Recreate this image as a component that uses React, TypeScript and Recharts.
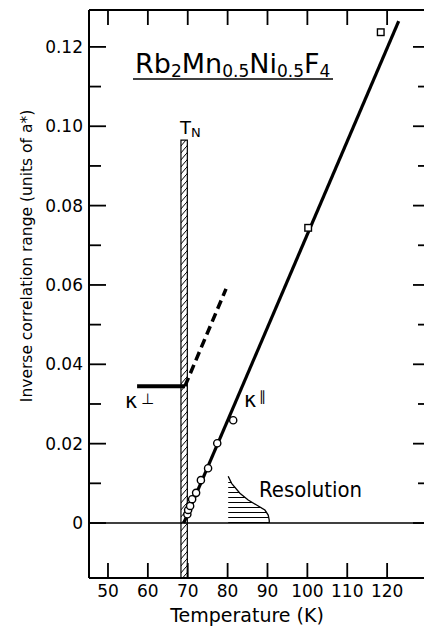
import React from 'react';
import {
  ComposedChart,
  XAxis,
  YAxis,
  Line,
  Scatter,
  Area,
  ReferenceArea,
  ReferenceLine,
  Customized,
} from 'recharts';

const FONT = '"DejaVu Sans", sans-serif';

// Axis ranges and ticks
const xDomain = [45.24, 130];
const yDomain = [-0.01386, 0.1293];
const xTicks = [50, 60, 70, 80, 90, 100, 110, 120];
const yTicks = [0, 0.01, 0.02, 0.03, 0.04, 0.05, 0.06, 0.07, 0.08, 0.09, 0.1, 0.11, 0.12];

// kappa-parallel measurements (open circles)
const circleTemps = [69.9, 70.1, 70.6, 71.1, 72.1, 73.3, 75.1, 77.4, 81.4];
const circleValues = [0.0022, 0.0033, 0.0043, 0.006, 0.0076, 0.0108, 0.0138, 0.0201, 0.0259];

// kappa-parallel measurements (open squares)
const squareTemps = [100.2, 118.4];
const squareValues = [0.0744, 0.1237];

// straight-line fit through kappa-parallel
const fitTemps = [69.0, 122.9];
const fitValues = [0, 0.1265];

// kappa-perp, constant below T_N
const perpTemps = [57.3, 69.3];
const perpValues = [0.0345, 0.0345];

// kappa-perp continued above T_N (dashed)
const extrapTemps = [69.3, 79.6];
const extrapValues = [0.0345, 0.059];

// instrumental resolution profile
const resTemps = [80.15, 81.0, 83.08, 85.16, 87.27, 89.35, 90.18, 90.43, 90.45];
const resValues = [0.0118, 0.01, 0.0075, 0.0058, 0.00453, 0.00327, 0.002, 0.00076, 0];

// Neel temperature band
const tnLow = 68.3;
const tnHigh = 69.9;
const tnTop = 0.0965;

const zip = (ts: number[], vs: number[]) => ts.map((t, i) => ({ t, v: vs[i] }));

const circleData = zip(circleTemps, circleValues);
const squareData = zip(squareTemps, squareValues);
const fitData = zip(fitTemps, fitValues);
const perpData = zip(perpTemps, perpValues);
const extrapData = zip(extrapTemps, extrapValues);
const resData = zip(resTemps, resValues);

const isMajor = (v: number) => Math.round(v * 100) % 2 === 0;
const fmtY = (v: number) => (v === 0 ? '0' : v.toFixed(2));

// frame tick positions, placed on the frame edges through the chart scales
const leftTickData = yTicks.map((v) => ({ t: xDomain[0], v }));
const rightTickData = yTicks.map((v) => ({ t: xDomain[1], v }));
const bottomTickData = xTicks.map((t) => ({ t, v: yDomain[0] }));
const topTickData = xTicks.map((t) => ({ t, v: yDomain[1] }));

const LeftTickMark = (props: any) => {
  const len = isMajor(props.payload.v) ? 17 : 12;
  return <rect x={props.cx} y={props.cy - 0.9} width={len} height={1.8} fill="#000" />;
};

const RightTickMark = (props: any) => {
  const len = isMajor(props.payload.v) ? 14 : 9;
  return <rect x={props.cx - len} y={props.cy - 0.9} width={len} height={1.8} fill="#000" />;
};

const BottomTickMark = (props: any) => (
  <rect x={props.cx - 0.9} y={props.cy - 15} width={1.8} height={15} fill="#000" />
);

const TopTickMark = (props: any) => (
  <rect x={props.cx - 0.9} y={props.cy} width={1.8} height={15} fill="#000" />
);

const renderLeftLabel = (props: any) => {
  const v = props.payload.value;
  if (!isMajor(v)) return <g key={`l-${v}`} />;
  return (
    <text key={`l-${v}`} x={Number(props.x) - 6} y={Number(props.y)} dy={6} textAnchor="end" fontSize={17} fontFamily={FONT} fill="#000">
      {fmtY(v)}
    </text>
  );
};

const renderBottomLabel = (props: any) => (
  <text key={`b-${props.payload.value}`} x={Number(props.x)} y={Number(props.y) + 19} textAnchor="middle" fontSize={17} fontFamily={FONT} fill="#000">
    {props.payload.value}
  </text>
);

const CircleMark = (props: any) => (
  <circle cx={props.cx} cy={props.cy} r={3.6} fill="#fff" stroke="#000" strokeWidth={1.4} />
);

const SquareMark = (props: any) => (
  <rect x={props.cx - 3.3} y={props.cy - 3.3} width={6.6} height={6.6} fill="#fff" stroke="#000" strokeWidth={1.4} />
);

const Annotations = () => (
  <g fontFamily={FONT} fill="#000">
    <text x={135} y={73} fontSize={27}>
      <tspan>Rb</tspan>
      <tspan fontSize={17} dy={4}>2</tspan>
      <tspan dy={-4}>Mn</tspan>
      <tspan fontSize={17} dy={4}>0.5</tspan>
      <tspan dy={-4}>Ni</tspan>
      <tspan fontSize={17} dy={4}>0.5</tspan>
      <tspan dy={-4}>F</tspan>
      <tspan fontSize={17} dy={4}>4</tspan>
    </text>
    <line x1={133} x2={333} y1={79} y2={79} stroke="#000" strokeWidth={1.5} />
    <text x={180} y={134} fontSize={18}>
      T<tspan fontSize={13} dy={3}>N</tspan>
    </text>
    <text x={125} y={408} fontSize={21}>κ</text>
    <text x={141} y={404} fontSize={15}>⊥</text>
    <text x={244} y={407} fontSize={21}>κ</text>
    <text x={259} y={401} fontSize={14}>∥</text>
    <text x={259} y={497} fontSize={21} textLength={103} lengthAdjust="spacingAndGlyphs">Resolution</text>
    <text x={247} y={622} fontSize={19} textAnchor="middle">Temperature (K)</text>
    <text
      x={27}
      y={256}
      fontSize={15.5}
      textAnchor="middle"
      dominantBaseline="central"
      transform="rotate(-90 27 256)"
    >
      Inverse correlation range (units of a*)
    </text>
  </g>
);

export default function App() {
  return (
    <div style={{ position: 'absolute', left: 0, top: 0, width: 424, height: 633, overflow: 'hidden', background: '#fff' }}>
      <ComposedChart width={430} height={633} margin={{ top: 0, right: 0, bottom: 0, left: 0 }}>
        <defs>
          <pattern id="tnHatch" patternUnits="userSpaceOnUse" width={6} height={7}>
            <path d="M0,7 L6,0" stroke="#000" strokeWidth={1} />
          </pattern>
          <pattern id="resHatch" patternUnits="userSpaceOnUse" width={10} height={5}>
            <line x1={0} x2={10} y1={2.5} y2={2.5} stroke="#000" strokeWidth={1} />
          </pattern>
        </defs>
        <XAxis
          dataKey="t"
          type="number"
          domain={xDomain}
          allowDataOverflow
          ticks={xTicks}
          interval={0}
          height={55}
          tickSize={0}
          tickMargin={0}
          tickLine={false}
          tick={renderBottomLabel}
          axisLine={{ stroke: '#000', strokeWidth: 2 }}
        />
        <XAxis
          xAxisId="top"
          orientation="top"
          type="number"
          domain={xDomain}
          allowDataOverflow
          ticks={xTicks}
          height={10}
          tickLine={false}
          tick={false}
          axisLine={{ stroke: '#000', strokeWidth: 2 }}
        />
        <YAxis
          type="number"
          domain={yDomain}
          allowDataOverflow
          ticks={yTicks}
          interval={0}
          width={89}
          tickSize={0}
          tickMargin={0}
          tickLine={false}
          tick={renderLeftLabel}
          axisLine={{ stroke: '#000', strokeWidth: 2 }}
        />
        <YAxis
          yAxisId="r"
          orientation="right"
          type="number"
          domain={yDomain}
          allowDataOverflow
          width={3}
          tickLine={false}
          tick={false}
          axisLine={{ stroke: '#000', strokeWidth: 2 }}
        />
        <Area
          data={resData}
          dataKey="v"
          type="linear"
          baseValue={0}
          fill="url(#resHatch)"
          fillOpacity={1}
          stroke="#000"
          strokeWidth={1.3}
          dot={false}
          activeDot={false}
          isAnimationActive={false}
        />
        <ReferenceArea
          x1={tnLow}
          x2={tnHigh}
          y1={yDomain[0]}
          y2={tnTop}
          fill="url(#tnHatch)"
          fillOpacity={1}
          stroke="#000"
          strokeWidth={1.2}
          ifOverflow="hidden"
        />
        <ReferenceLine y={0} stroke="#000" strokeWidth={1.3} />
        <Line data={perpData} dataKey="v" type="linear" stroke="#000" strokeWidth={4} dot={false} activeDot={false} isAnimationActive={false} />
        <Line
          data={extrapData}
          dataKey="v"
          type="linear"
          stroke="#000"
          strokeWidth={3.5}
          strokeDasharray="9 5"
          dot={false}
          activeDot={false}
          isAnimationActive={false}
        />
        <Line data={fitData} dataKey="v" type="linear" stroke="#000" strokeWidth={3.2} dot={false} activeDot={false} isAnimationActive={false} />
        <Scatter data={circleData} dataKey="v" shape={<CircleMark />} isAnimationActive={false} />
        <Scatter data={squareData} dataKey="v" shape={<SquareMark />} isAnimationActive={false} />

        {/* inward tick marks along the four frame edges */}
        <Scatter data={leftTickData} dataKey="v" shape={<LeftTickMark />} isAnimationActive={false} />
        <Scatter data={rightTickData} dataKey="v" shape={<RightTickMark />} isAnimationActive={false} />
        <Scatter data={bottomTickData} dataKey="v" shape={<BottomTickMark />} isAnimationActive={false} />
        <Scatter data={topTickData} dataKey="v" shape={<TopTickMark />} isAnimationActive={false} />

        <Customized component={Annotations} />
      </ComposedChart>
    </div>
  );
}
